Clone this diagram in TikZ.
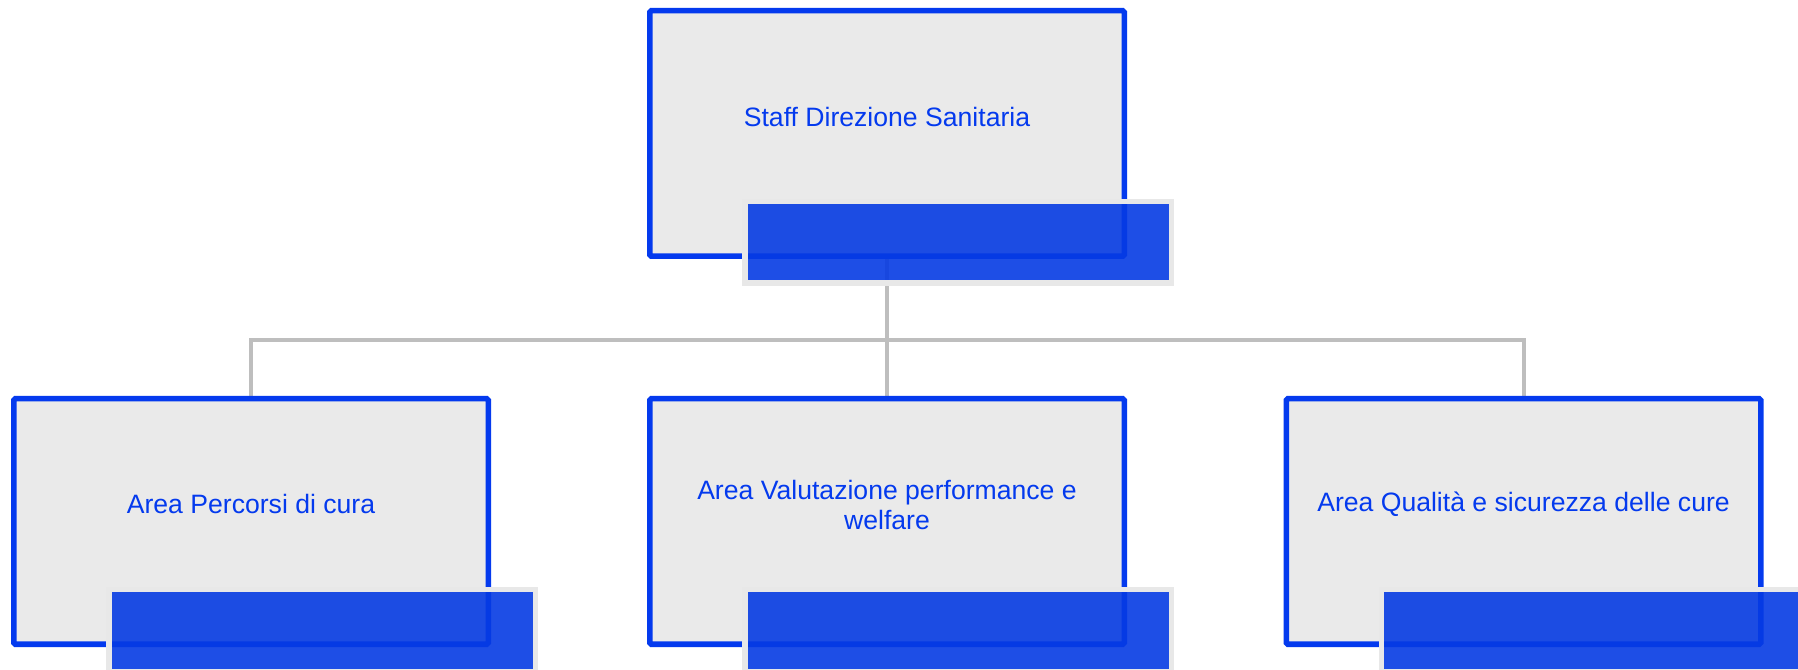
\documentclass[tikz,border=0pt]{standalone}
\usepackage{fontspec}
\setmainfont{Liberation Sans}
\usetikzlibrary{backgrounds}
\definecolor{unitblue}{RGB}{4,58,238}
\definecolor{barblue}{RGB}{6,59,227}
\definecolor{unitgrey}{RGB}{234,234,234}
\definecolor{bargrey}{RGB}{232,232,232}
\definecolor{linkgrey}{RGB}{190,190,190}
\tikzset{
  unit/.style={draw=unitblue, fill=unitgrey, line width=5.5pt, rounded corners=1.5pt,
    minimum width=474.5pt, minimum height=245.5pt},
  unittext/.style={text=unitblue, align=flush center, text width=440pt,
    font=\fontsize{26.6}{30.5}\selectfont},
  unitbar/.style={draw=bargrey, fill=barblue, fill opacity=0.9, line width=5.5pt,
    minimum width=426.5pt, minimum height=81.5pt, anchor=north west},
  link/.style={draw=linkgrey, line width=4pt}
}
\begin{document}
\begin{tikzpicture}[x=1pt,y=1pt]
\useasboundingbox (0,0) rectangle (1798,669);
\clip (0,0) rectangle (1798,669);

% boxes
\node[unit] (staff) at (887,535.5) {};
\node[unit] (percorsi) at (251,147.5) {};
\node[unit] (valutazione) at (887,147.5) {};
\node[unit] (qualita) at (1523.5,147.5) {};

% names
\node[unittext] (stafftext) at ([yshift=16.5pt]staff.center) {Staff Direzione Sanitaria};
\node[unittext] (percorsitext) at ([yshift=17.5pt]percorsi.center) {Area Percorsi di cura};
\node[unittext] (valutazionetext) at ([yshift=16.5pt]valutazione.center) {Area Valutazione performance e welfare};
\node[unittext] (qualitatext) at ([yshift=17.5pt]qualita.center) {Area Qualità e sicurezza delle cure};

% connectors
\begin{scope}[on background layer]
  \coordinate (hub) at (887,328.5);
  \draw[link] (staff.south) -- (hub);
  \foreach \n in {percorsi,valutazione,qualita}
    \draw[link] (hub) -| (\n.north);
\end{scope}

% bars
\foreach \n in {staff,percorsi,valutazione,qualita}
  \node[unitbar] (\n-bar) at ([xshift=95pt,yshift=60pt]\n.south west) {};
\end{tikzpicture}
\end{document}
